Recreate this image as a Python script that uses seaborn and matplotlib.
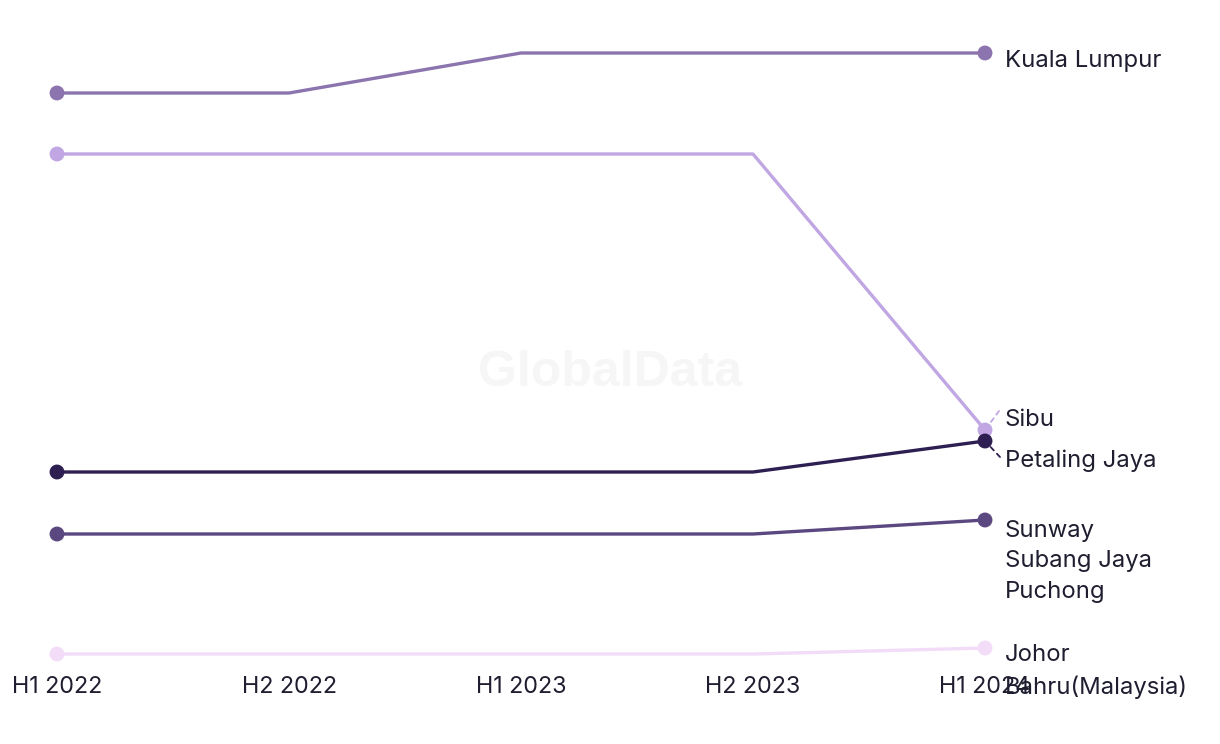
import matplotlib
matplotlib.use("Agg")
import matplotlib.pyplot as plt
import seaborn as sns
import pandas as pd

periods = ["H1 2022", "H2 2022", "H1 2023", "H2 2023", "H1 2024"]
kuala_lumpur = [56.1, 56.1, 60.1, 60.1, 60.1]
sibu = [50.0, 50.0, 50.0, 50.0, 22.4]
petaling_jaya = [18.2, 18.2, 18.2, 18.2, 21.3]
sunway = [12.0, 12.0, 12.0, 12.0, 13.4]
johor = [0.0, 0.0, 0.0, 0.0, 0.6]

series_names = ["Kuala Lumpur", "Sibu", "Petaling Jaya",
                "Sunway\nSubang Jaya\nPuchong", "Johor\nBahru(Malaysia)"]
series_values = [kuala_lumpur, sibu, petaling_jaya, sunway, johor]
colors = ["#8c74ae", "#c0a6e2", "#2e1f52", "#5c4880", "#f2dcf8"]

rows = []
for name, vals in zip(series_names, series_values):
    for i, v in enumerate(vals):
        rows.append({"series": name, "idx": i, "period": periods[i], "value": v})
df = pd.DataFrame(rows)

sns.set_theme(style="white")
plt.rcParams["font.family"] = ["Inter", "DejaVu Sans"]
text_color = "#1e1e30"

fig = plt.figure(figsize=(12.2, 7.44), dpi=100)
ax = fig.add_axes([0, (744 - 670) / 744, 1, 670 / 744])

palette = dict(zip(series_names, colors))
sns.lineplot(data=df, x="idx", y="value", hue="series", palette=palette,
             linewidth=2.4, ax=ax, legend=False, sort=False)
ends = df[df["idx"].isin([0, len(periods) - 1])]
sns.scatterplot(data=ends, x="idx", y="value", hue="series", palette=palette,
                s=115, linewidth=0, ax=ax, legend=False, zorder=5)

ax.set_xlim(-57 / 232, (1220 - 57) / 232)
ax.set_ylim(-1.6, 65.4)
ax.set_xticks(range(len(periods)))
ax.set_xticklabels(periods, fontsize=16.8, color=text_color)
ax.tick_params(axis="x", length=0, pad=4.5)
ax.set_yticks([])
ax.set_xlabel("")
ax.set_ylabel("")
for s in ax.spines.values():
    s.set_visible(False)

# watermark
ax.text(0.5, (670 - 373) / 670, "GlobalData", transform=ax.transAxes,
        ha="center", va="center", fontsize=36, fontweight="bold",
        color="#f6f6f6", family=["Liberation Sans", "DejaVu Sans"], zorder=0)

# end labels (offsets in pixels: dx, dy downward positive)
px = 0.72
label_offsets = {
    "Kuala Lumpur": (20, 8, "center", None),
    "Sibu": (20, -10, "center", (14, -19)),
    "Petaling Jaya": (20, 20, "center", (15, 16)),
    "Sunway\nSubang Jaya\nPuchong": (20, 0, "top", None),
    "Johor\nBahru(Malaysia)": (20, -4, "top", None),
}
last = len(periods) - 1
for name, vals, col in zip(series_names, series_values, colors):
    dx, dy, va, leader = label_offsets[name]
    ax.annotate(name, xy=(last, vals[last]), xytext=(dx * px, -dy * px),
                textcoords="offset points", ha="left", va=va,
                fontsize=17.2, color=text_color, linespacing=1.5)
    if leader is not None:
        lx, ly = leader
        ax.annotate("", xy=(last, vals[last]), xytext=(lx * px, -ly * px),
                    textcoords="offset points",
                    arrowprops=dict(arrowstyle="-", color=col, lw=1.3,
                                    linestyle=(0, (2.5, 2.5)),
                                    shrinkA=0, shrinkB=6))

fig.savefig("out.png", dpi=100)
